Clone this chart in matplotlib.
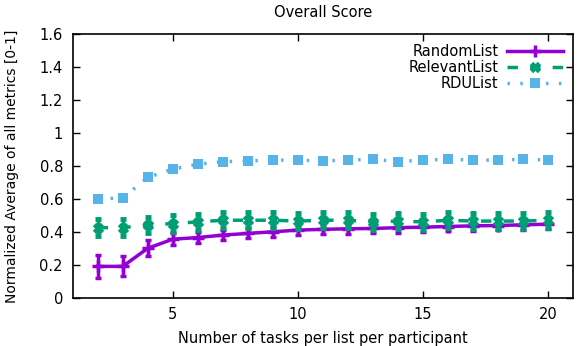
import matplotlib
matplotlib.use("Agg")
import matplotlib.pyplot as plt
from matplotlib.lines import Line2D

# tasks per list per participant
tasks = list(range(2, 21))

random_mean = [0.19, 0.19, 0.30, 0.355, 0.365, 0.38, 0.39, 0.40, 0.41, 0.415,
               0.418, 0.42, 0.425, 0.428, 0.432, 0.436, 0.438, 0.442, 0.446]
random_err = [0.07, 0.06, 0.05, 0.035, 0.032, 0.03, 0.03, 0.03, 0.03, 0.03,
              0.03, 0.03, 0.03, 0.03, 0.03, 0.03, 0.03, 0.03, 0.03]

relevant_mean = [0.425, 0.425, 0.44, 0.45, 0.46, 0.47, 0.47, 0.47, 0.465, 0.47,
                 0.47, 0.46, 0.465, 0.46, 0.47, 0.465, 0.465, 0.465, 0.47]
relevant_err = [0.05] * 19

rdu_mean = [0.60, 0.605, 0.73, 0.78, 0.81, 0.825, 0.83, 0.835, 0.835, 0.83,
            0.835, 0.84, 0.825, 0.835, 0.84, 0.835, 0.835, 0.84, 0.835]
rdu_err = [0.012] * 19

C_RANDOM = "#9400d3"
C_RELEVANT = "#009e73"
C_RDU = "#56b4e9"

plt.rcParams["font.family"] = "DejaVu Sans"
plt.rcParams["font.size"] = 10.5

fig = plt.figure(figsize=(5.83, 3.46), dpi=100)
ax = fig.add_axes([0.1247, 0.1396, 0.983 - 0.1247, 0.9017 - 0.1396])

REL_LS = (0, (3, 3.5))
RDU_LS = (0, (0.7, 3))

ax.errorbar(tasks, random_mean, yerr=random_err, color=C_RANDOM, lw=2.5,
            marker="+", ms=8, mew=2.5, elinewidth=2.5, capsize=2.5, capthick=2.5,
            zorder=3)
ax.errorbar(tasks, relevant_mean, yerr=relevant_err, color=C_RELEVANT, lw=2.5,
            ls=REL_LS, marker="x", ms=6, mew=3.5, elinewidth=2.5,
            capsize=2.5, capthick=2.5, zorder=4)
ax.errorbar(tasks, rdu_mean, yerr=rdu_err, color=C_RDU, lw=2.5,
            ls=RDU_LS, marker="s", ms=6.5, mew=0, elinewidth=2.5,
            capsize=2.5, capthick=2.5, zorder=2)

ax.set_xlim(1, 21)
ax.set_ylim(0, 1.6)
ax.set_xticks([5, 10, 15, 20])
ax.set_yticks([0, 0.2, 0.4, 0.6, 0.8, 1.0, 1.2, 1.4, 1.6])
ax.set_yticklabels(["0", "0.2", "0.4", "0.6", "0.8", "1", "1.2", "1.4", "1.6"])
ax.tick_params(direction="in", top=True, right=True, length=5, width=1, pad=7)
for s in ax.spines.values():
    s.set_linewidth(1.2)

ax.set_title("Overall Score", fontsize=10.5, pad=12)
ax.set_xlabel("Number of tasks per list per participant", labelpad=6)
ax.set_ylabel("Normalized Average of all metrics [0-1]", fontsize=10, labelpad=15)

handles = [
    Line2D([], [], color=C_RANDOM, lw=2.5, marker="+", ms=8, mew=2.5),
    Line2D([], [], color=C_RELEVANT, lw=2.5, ls=REL_LS, marker="x", ms=6, mew=3.5),
    Line2D([], [], color=C_RDU, lw=2.5, ls=RDU_LS, marker="s", ms=6.5, mew=0),
]
ax.legend(handles, ["RandomList", "RelevantList", "RDUList"],
          loc="upper right", frameon=False, markerfirst=False,
          handlelength=3.8, borderaxespad=0.3, labelspacing=0.05,
          handletextpad=0.6)

fig.savefig("out.png", dpi=100)
